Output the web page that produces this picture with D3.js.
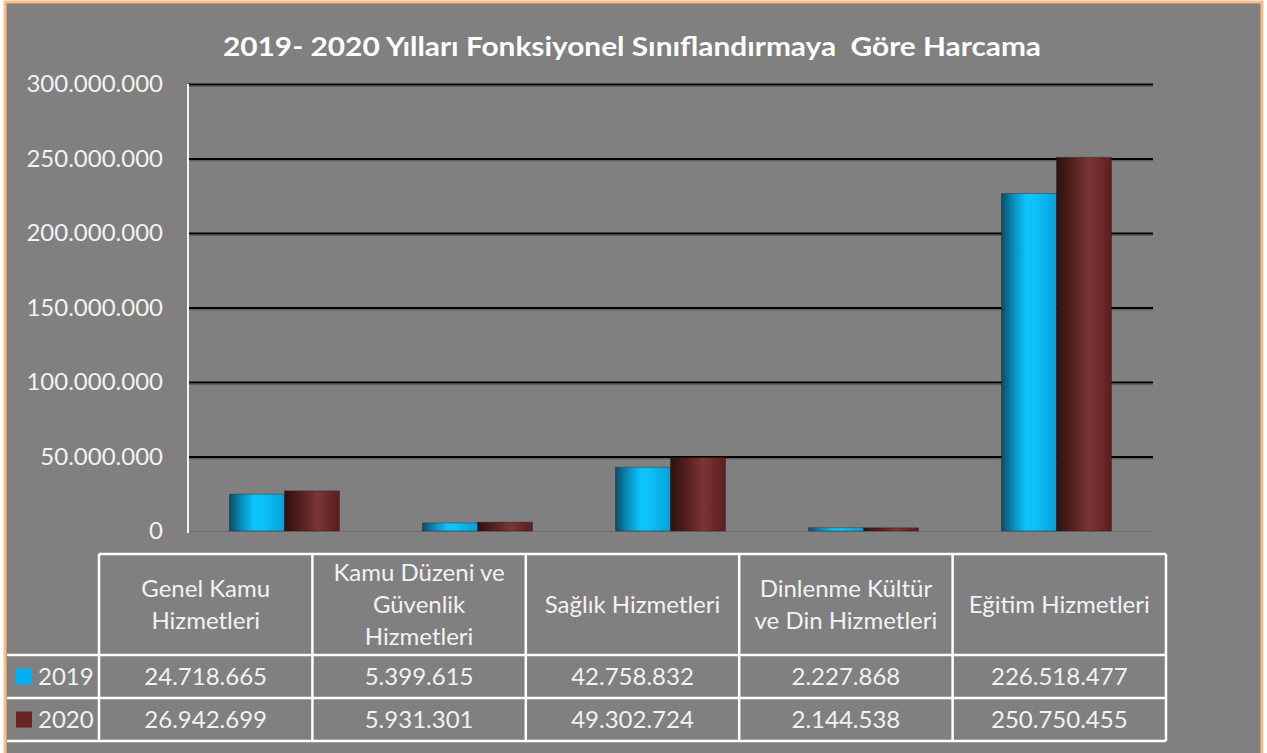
<!DOCTYPE html>
<html>
<head>
<meta charset="utf-8">
<style>
  body { margin: 0; background: #fff; }
  svg { display: block; font-family: Lato, "Open Sans", sans-serif; }
</style>
</head>
<body>
<svg width="1267" height="753"></svg>
<script src="https://cdn.jsdelivr.net/npm/d3@7"></script>
<script>

// ---- data ----
var categories = ["Genel Kamu Hizmetleri", "Kamu Düzeni ve Güvenlik Hizmetleri", "Sağlık Hizmetleri",
                  "Dinlenme Kültür ve Din Hizmetleri", "Eğitim Hizmetleri"];
var headerLines = [["Genel Kamu", "Hizmetleri"], ["Kamu Düzeni ve", "Güvenlik", "Hizmetleri"],
                   ["Sağlık Hizmetleri"], ["Dinlenme Kültür", "ve Din Hizmetleri"], ["Eğitim Hizmetleri"]];
var years = ["2019", "2020"];
var values2019 = [24718665, 5399615, 42758832, 2227868, 226518477];
var values2020 = [26942699, 5931301, 49302724, 2144538, 250750455];
var yTicks = [0, 50000000, 100000000, 150000000, 200000000, 250000000, 300000000];
var title = "2019- 2020 Yılları Fonksiyonel Sınıflandırmaya  Göre Harcama";

var series = [
  {year: years[0], values: values2019, grad: "gBlue", swatch: "#00b0f0"},
  {year: years[1], values: values2020, grad: "gBrown", swatch: "#6b2222"}
];

var trLocale = d3.formatLocale({decimal: ",", thousands: ".", grouping: [3], currency: ["", ""]});
var fmt = trLocale.format(",d");

var svg = d3.select("svg");

// background frame
svg.append("rect").attr("x", 5).attr("y", 2).attr("width", 1257).attr("height", 760)
   .attr("fill", "#808080").attr("stroke", "#f9bd86").attr("stroke-width", 3);

// gradients for the cylinder look
var defs = svg.append("defs");
function grad(id, stops) {
  var lg = defs.append("linearGradient").attr("id", id)
      .attr("x1", "0%").attr("x2", "100%").attr("y1", "0%").attr("y2", "0%");
  stops.forEach(function(s) {
    lg.append("stop").attr("offset", s[0]).attr("stop-color", s[1]);
  });
}
grad("gBlue", [["0%", "#0a4c68"], ["20%", "#0789b6"], ["45%", "#0bc4fb"], ["60%", "#0dc2fa"], ["100%", "#04a2d8"]]);
grad("gBrown", [["0%", "#2e1010"], ["25%", "#4f1c1c"], ["60%", "#7a3634"], ["100%", "#5a1e1e"]]);

// ---- scales ----
var plot = {left: 188, right: 1153, top: 84, bottom: 531};

var y = d3.scaleLinear().domain([0, 300000000]).range([plot.bottom, plot.top]);
var x0 = d3.scaleBand().domain(categories).range([plot.left, plot.right])
    .paddingInner(0.43).paddingOuter(0.215);
var x1 = d3.scaleBand().domain(years).range([0, x0.bandwidth()]);

// title
svg.append("text")
   .attr("x", 632).attr("y", 56)
   .attr("text-anchor", "middle")
   .attr("fill", "#ffffff").attr("font-weight", "bold").attr("font-size", 26)
   .attr("textLength", 818).attr("lengthAdjust", "spacingAndGlyphs")
   .style("white-space", "pre")
   .text(title);

// gridlines (drawn by axis with long ticks)
var grid = svg.append("g").attr("transform", "translate(" + plot.left + ",0)")
  .call(d3.axisLeft(y).tickValues(yTicks.slice(1)).tickSize(-(plot.right - plot.left)).tickFormat(""));
grid.select(".domain").remove();
grid.selectAll("line").attr("stroke", "#000").attr("stroke-width", 2);
grid.selectAll(".tick").append("line")
  .attr("x1", 0).attr("x2", plot.right - plot.left).attr("y1", 1.8).attr("y2", 1.8)
  .attr("stroke", "#555").attr("stroke-width", 1);

// floor line
svg.append("line").attr("x1", plot.left).attr("x2", plot.right)
   .attr("y1", y(0) + 0.5).attr("y2", y(0) + 0.5)
   .attr("stroke", "#6c6c6c").attr("stroke-width", 1);

// y axis labels
var yAxis = svg.append("g").attr("transform", "translate(" + plot.left + ",0)")
  .call(d3.axisLeft(y).tickValues(yTicks).tickSize(0).tickPadding(25).tickFormat(fmt));
yAxis.select(".domain").remove();
yAxis.selectAll("text").attr("fill", "#f2f2f2").attr("font-size", 24)
  .attr("font-family", "Lato, 'Open Sans', sans-serif");

// y axis line
svg.append("line").attr("x1", plot.left).attr("x2", plot.left)
   .attr("y1", plot.top).attr("y2", plot.bottom + 2)
   .attr("stroke", "#f4f4f4").attr("stroke-width", 2);

// bars
var groups = svg.append("g").selectAll("g")
  .data(categories).join("g")
  .attr("transform", function(d) { return "translate(" + x0(d) + ",0)"; });

groups.selectAll("rect")
  .data(function(d, i) { return series.map(function(s) { return {s: s, v: s.values[i]}; }); })
  .join("rect")
  .attr("x", function(d) { return x1(d.s.year); })
  .attr("y", function(d) { return y(d.v); })
  .attr("width", x1.bandwidth())
  .attr("height", function(d) { return y(0) - y(d.v); })
  .attr("fill", function(d) { return "url(#" + d.s.grad + ")"; })
  .attr("stroke", "rgba(40,20,20,0.35)").attr("stroke-width", 1);

// ---- data table ----
var tbl = {left: 99, right: 1166, top: 554, head: 655, row1: 698, bottom: 741, legLeft: 7};
var xc = d3.scaleBand().domain(categories).range([tbl.left, tbl.right]);
var rowsY = [tbl.head, tbl.row1, tbl.bottom];

var t = svg.append("g").attr("fill", "none").attr("stroke", "#ffffff").attr("stroke-width", 2.5);
// header box
t.append("line").attr("x1", tbl.left).attr("x2", tbl.right).attr("y1", tbl.top).attr("y2", tbl.top);
// horizontal row lines
rowsY.forEach(function(yy) {
  t.append("line").attr("x1", tbl.legLeft).attr("x2", tbl.right).attr("y1", yy).attr("y2", yy);
});
// vertical lines
categories.forEach(function(c) {
  t.append("line").attr("x1", xc(c)).attr("x2", xc(c)).attr("y1", tbl.top).attr("y2", tbl.bottom);
});
t.append("line").attr("x1", tbl.right).attr("x2", tbl.right).attr("y1", tbl.top).attr("y2", tbl.bottom);

// header text
var lh = 32;
svg.append("g").selectAll("text")
  .data(categories).join("text")
  .attr("x", function(d) { return xc(d) + xc.bandwidth() / 2; })
  .attr("text-anchor", "middle")
  .attr("fill", "#f2f2f2").attr("font-size", 24)
  .each(function(d, i) {
    var lines = headerLines[i];
    var mid = (tbl.top + tbl.head) / 2;
    var y0 = mid - (lines.length - 1) * lh / 2 + 8;
    d3.select(this).selectAll("tspan").data(lines).join("tspan")
      .attr("x", xc(d) + xc.bandwidth() / 2)
      .attr("y", function(l, j) { return y0 + j * lh; })
      .text(function(l) { return l; });
  });

// value rows + legend keys
series.forEach(function(s, r) {
  var top = rowsY[r], bot = rowsY[r + 1];
  var cy = (top + bot) / 2;
  var row = svg.append("g");
  row.append("rect").attr("x", 16).attr("y", cy - 8).attr("width", 16).attr("height", 16)
     .attr("fill", s.swatch);
  row.append("text").attr("x", 38).attr("y", cy + 8.5)
     .attr("fill", "#f2f2f2").attr("font-size", 24).text(s.year);
  row.selectAll("text.val").data(s.values).join("text").attr("class", "val")
     .attr("x", function(v, i) { return xc(categories[i]) + xc.bandwidth() / 2; })
     .attr("y", cy + 8.5)
     .attr("text-anchor", "middle")
     .attr("fill", "#f2f2f2").attr("font-size", 24)
     .text(function(v) { return fmt(v); });
});

</script>
</body>
</html>
